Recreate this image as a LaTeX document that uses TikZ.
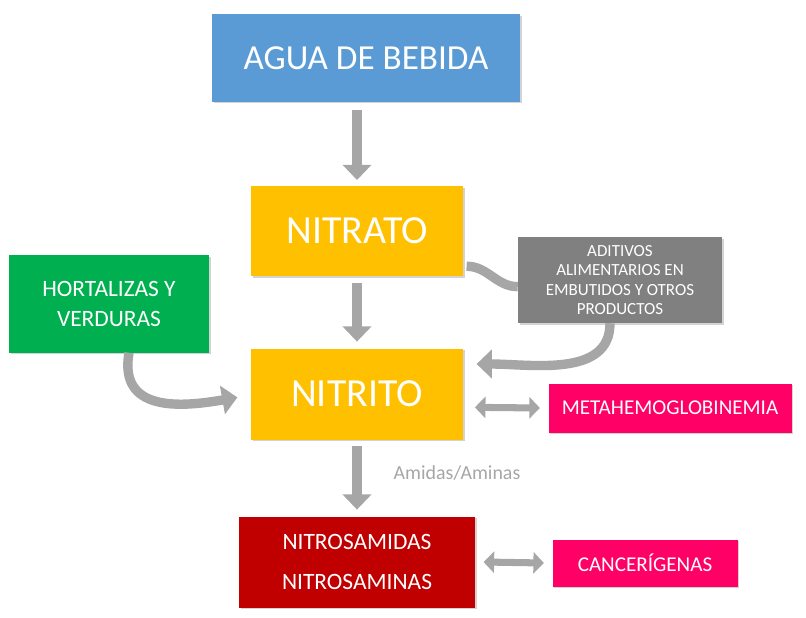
\documentclass[tikz,border=0pt]{standalone}
\usepackage{fontspec}
\setmainfont{Carlito}
\usetikzlibrary{arrows.meta, shadows}
\definecolor{agua}{HTML}{5B9BD5}
\definecolor{amarillo}{HTML}{FFC000}
\definecolor{verde}{HTML}{00B050}
\definecolor{rosa}{HTML}{FF0066}
\definecolor{rojo}{HTML}{C00000}
\definecolor{flecha}{HTML}{A6A6A6}
\tikzset{
  caja/.style={rectangle, text=white, align=center, inner sep=0pt,
    drop shadow={shadow xshift=1.5pt, shadow yshift=-1.5pt, opacity=0.35}},
  gruesa/.style={draw=flecha, line width=8pt, -{Triangle[length=13pt, width=24pt]}},
  doble/.style={draw=flecha, line width=6pt, {Triangle[length=9pt, width=18pt]}-{Triangle[length=9pt, width=18pt]}}
}
\begin{document}
\begin{tikzpicture}[x=0.03cm, y=-0.03cm]
  \useasboundingbox (0,0) rectangle (806,618);
      \node[caja, fill=agua, minimum width=9.24cm, minimum height=2.61cm, font=\fontsize{30}{32}\selectfont] (agua) at (366,58) {AGUA DE BEBIDA};
      \node[caja, fill=amarillo, minimum width=6.36cm, minimum height=2.7cm, font=\fontsize{34}{36}\selectfont] (nitrato) at (357,231) {NITRATO};
      \node[caja, fill=amarillo, minimum width=6.36cm, minimum height=2.73cm, font=\fontsize{34}{36}\selectfont] (nitrito) at (357,394) {NITRITO};
      \node[caja, fill=rojo, minimum width=7.08cm, minimum height=2.73cm, font=\fontsize{20}{34}\selectfont] (nitros) at (357,562) {NITROSAMIDAS\\NITROSAMINAS};
      \node[caja, fill=verde, minimum width=6cm, minimum height=2.91cm, font=\fontsize{20}{25}\selectfont] (hortal) at (109,304) {HORTALIZAS Y\\VERDURAS};
      \node[caja, fill=black!50, minimum width=6.12cm, minimum height=2.58cm, font=\fontsize{14.5}{16.5}\selectfont] (aditivos) at (620,280) {ADITIVOS\\ALIMENTARIOS EN\\EMBUTIDOS Y OTROS\\PRODUCTOS};
      \node[caja, fill=rosa, minimum width=7.29cm, minimum height=1.47cm, font=\fontsize{18}{20}\selectfont] (metahemo) at (670,408) {METAHEMOGLOBINEMIA};
      \node[caja, fill=rosa, minimum width=5.55cm, minimum height=1.41cm, font=\fontsize{18}{20}\selectfont] (cancer) at (645,563) {CANCERÍGENAS};

      \coordinate (n1) at (357,110);
      \coordinate (n2) at (357,180);
      \draw[gruesa] (n1) -- (n2);
      \draw[gruesa] ([yshift=-0.2cm]nitrato.south) -- ([yshift=0.2cm]nitrito.north);
      \draw[gruesa] ([yshift=-0.2cm]nitrito.south) -- node[right=24pt, yshift=4pt, text=flecha, font=\fontsize{17}{20}\selectfont] {Amidas/Aminas} ([yshift=0.2cm]nitros.north);

      \draw[doble] ([xshift=0.35cm, yshift=-0.4cm]nitrito.east) -- ([xshift=-0.25cm]metahemo.west);
      \draw[doble] ([xshift=0.25cm]nitros.east) -- ([xshift=-0.25cm]cancer.west);

      % curved arrows
      \draw[draw=flecha, line width=8pt] ([xshift=0.1cm, yshift=0.3cm]nitrato.south east) to[out=0, in=180] ([yshift=-0.2cm]aditivos.west);
      \draw[gruesa] ([xshift=-0.3cm]aditivos.south) to[out=-90, in=0] ([xshift=0.4cm, yshift=0.9cm]nitrito.east);
      \draw[gruesa] ([xshift=0.6cm]hortal.south) to[out=-100, in=190, looseness=1.3] ([xshift=-0.4cm, yshift=-0.1cm]nitrito.west);
\end{tikzpicture}
\end{document}
